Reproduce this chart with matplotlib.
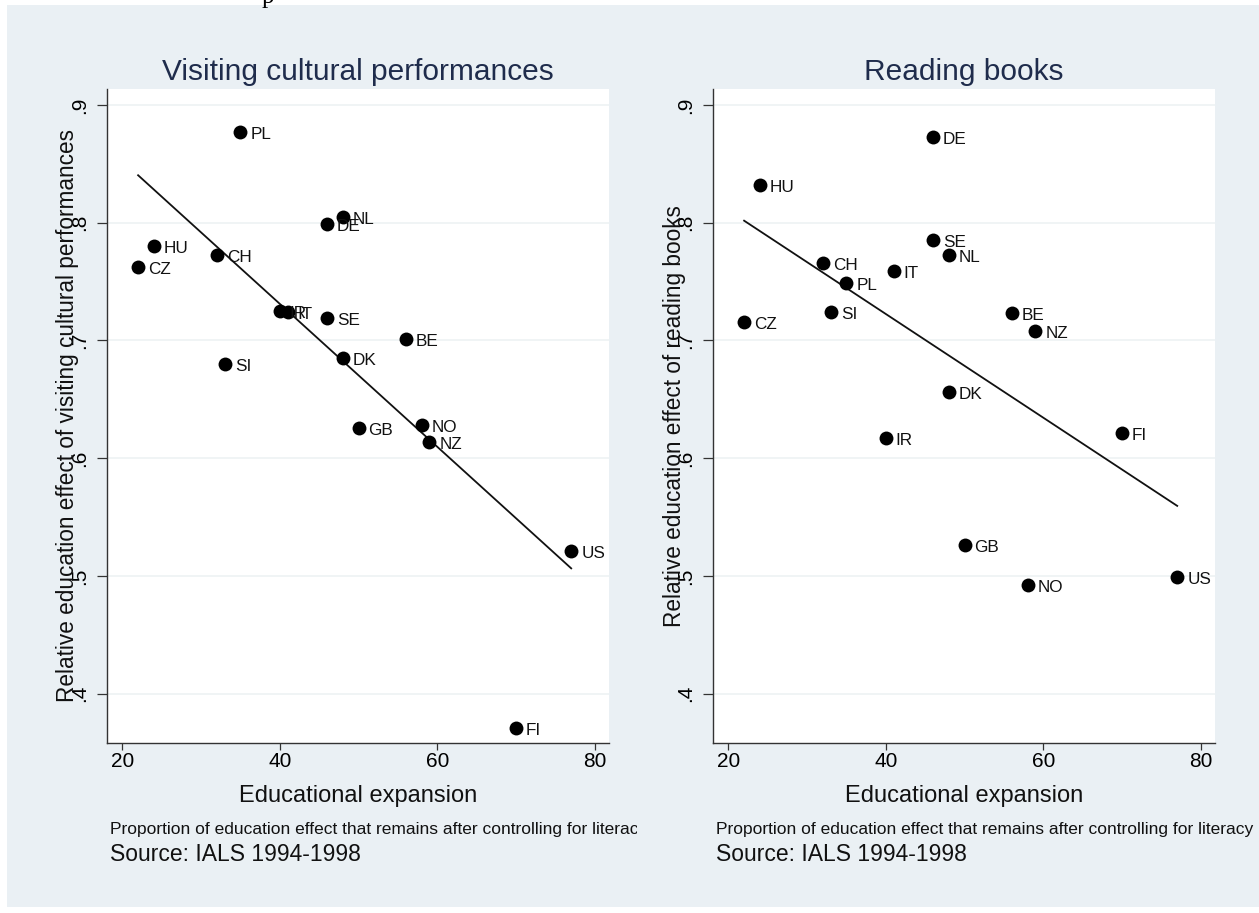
import numpy as np
import matplotlib
matplotlib.use("Agg")
import matplotlib.pyplot as plt
from matplotlib.patches import Rectangle
from matplotlib.transforms import Bbox, TransformedBbox

# ---------------- data ----------------
titles = ["Visiting cultural performances", "Reading books"]
ylabels = ["Relative education effect of visiting cultural performances",
           "Relative education effect of reading books"]
xlabel = "Educational expansion"
note = "Proportion of education effect that remains after controlling for literacy"
source = "Source: IALS 1994-1998"

countries_cult = ["PL", "NL", "DE", "HU", "CH", "CZ", "IR", "IT", "SE",
                  "BE", "DK", "SI", "GB", "NO", "NZ", "US", "FI"]
expansion_cult = [35, 48, 46, 24, 32, 22, 40, 41, 46, 56, 48, 33, 50, 58, 59, 77, 70]
effect_cult = [0.877, 0.805, 0.799, 0.780, 0.773, 0.762, 0.725, 0.724, 0.719,
               0.701, 0.685, 0.680, 0.626, 0.628, 0.614, 0.521, 0.371]

countries_book = ["DE", "HU", "SE", "NL", "CH", "IT", "PL", "SI", "CZ",
                  "BE", "NZ", "DK", "IR", "FI", "GB", "NO", "US"]
expansion_book = [46, 24, 46, 48, 32, 41, 35, 33, 22, 56, 59, 48, 40, 70, 50, 58, 77]
effect_book = [0.873, 0.832, 0.785, 0.773, 0.766, 0.759, 0.749, 0.724, 0.716,
               0.723, 0.708, 0.656, 0.617, 0.621, 0.526, 0.492, 0.499]

xticks = [20, 40, 60, 80]
yticks = [0.4, 0.5, 0.6, 0.7, 0.8, 0.9]
ytick_labels = [".4", ".5", ".6", ".7", ".8", ".9"]

# ---------------- style ----------------
W, H = 1259, 913
DPI = 100
plt.rcParams["font.family"] = ["Liberation Sans", "DejaVu Sans"]
BG = "#eaf0f4"
TITLE_C = "#1f2c4c"

fig = plt.figure(figsize=(W / DPI, H / DPI), dpi=DPI, facecolor="white")
# grey graph region (white margin at left/top/bottom)
fig.patches.append(Rectangle((7 / W, (H - 907) / H), (W - 7) / W, (907 - 5) / H,
                             transform=fig.transFigure, facecolor=BG,
                             edgecolor="none", zorder=-10))

# cut-off glyph at the very top of the picture
fig.text(262 / W, (H - 3) / H, "p", family="Liberation Serif", fontsize=18,
         ha="left", va="baseline", color="black")


def px_axes(x0, y0, x1, y1):
    return [x0 / W, (H - y1) / H, (x1 - x0) / W, (y1 - y0) / H]


panels = [
    (px_axes(107, 89, 609, 743), countries_cult, expansion_cult, effect_cult),
    (px_axes(713, 89, 1215, 743), countries_book, expansion_book, effect_book),
]

for i, (rect, names, xs, ys) in enumerate(panels):
    ax = fig.add_axes(rect)
    ax.set_facecolor("white")
    ax.set_xlim(18.05, 81.8)
    ax.set_ylim(0.358, 0.9136)
    for s in ["top", "right"]:
        ax.spines[s].set_visible(False)
    for s in ["left", "bottom"]:
        ax.spines[s].set_color("#333333")
        ax.spines[s].set_linewidth(1.0)

    ax.set_yticks(yticks)
    ax.set_yticklabels(ytick_labels, rotation=90, va="center", fontsize=15)
    ax.set_xticks(xticks)
    ax.set_xticklabels([str(t) for t in xticks], fontsize=15)
    ax.tick_params(axis="y", length=7, width=0.9, color="#333333", pad=6)
    ax.tick_params(axis="x", length=5.2, width=0.9, color="#333333", pad=1)
    ax.grid(axis="y", color="#eef2f4", linewidth=1.2)
    ax.set_axisbelow(True)

    ax.set_title(titles[i], fontsize=21.5, color=TITLE_C, pad=6.5)
    ax.set_ylabel(ylabels[i], fontsize=16.3, color="#111111")
    ax.yaxis.label.set_va("center")
    ax.yaxis.set_label_coords(-39 / 502, 0.5)
    ax.text(0.5, -(802 - 743) / 654, xlabel, transform=ax.transAxes,
            ha="center", va="baseline", fontsize=17, color="#111111")

    # fitted line
    xa = np.array(xs, dtype=float)
    ya = np.array(ys, dtype=float)
    b, a = np.polyfit(xa, ya, 1)
    xl = np.array([xa.min(), xa.max()])
    ax.plot(xl, a + b * xl, color="#111111", linewidth=1.3, zorder=2)

    ax.scatter(xs, ys, s=100, color="black", zorder=3, linewidths=0)
    for n, x, y in zip(names, xs, ys):
        ax.annotate(n, (x, y), xytext=(10, -2.5), textcoords="offset pixels",
                    ha="left", va="center", fontsize=12.3, color="#111111",
                    zorder=4)

    left_px = rect[0] * W + 3
    t_note = fig.text(left_px / W, (H - 834) / H, note, fontsize=12.5,
                      ha="left", va="baseline", color="#111111")
    if i == 0:
        t_note.set_clip_on(True)
        t_note.set_clip_box(TransformedBbox(Bbox([[0, 0], [637 / W, 1]]),
                                            fig.transFigure))
    fig.text(left_px / W, (H - 861) / H, source, fontsize=16.5,
             ha="left", va="baseline", color="#111111")

fig.savefig("out.png", dpi=DPI, facecolor=fig.get_facecolor())
